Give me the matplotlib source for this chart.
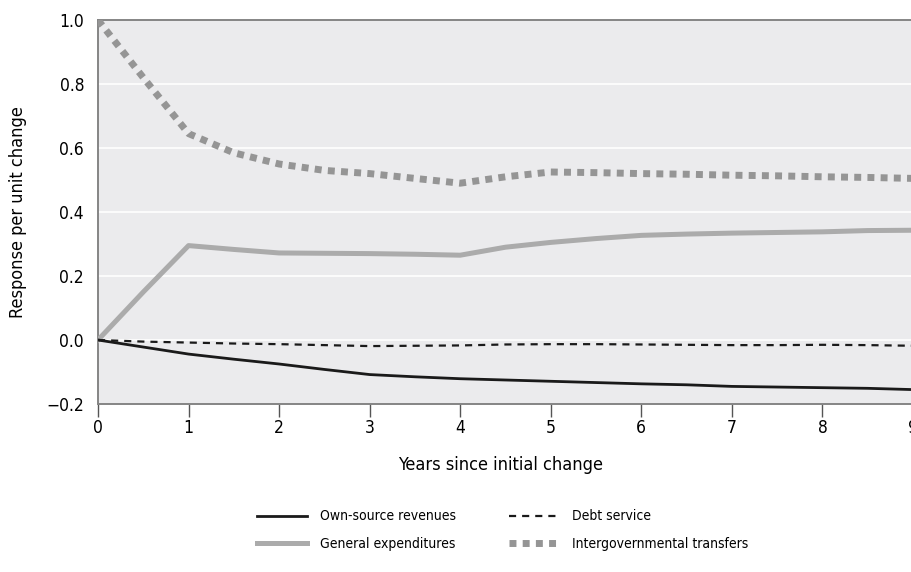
import matplotlib
matplotlib.use('Agg')
import matplotlib.pyplot as plt

plt.rcParams['font.family'] = ['DejaVu Sans']
plt.rcParams['font.stretch'] = 'condensed'

years = [0, 0.5, 1, 1.5, 2, 2.5, 3, 3.5, 4, 4.5, 5, 5.5, 6, 6.5, 7, 7.5, 8, 8.5, 9]
own_source = [0, -0.022, -0.044, -0.06, -0.075, -0.092, -0.108, -0.115, -0.121, -0.125,
              -0.129, -0.133, -0.137, -0.14, -0.145, -0.147, -0.149, -0.151, -0.155]
debt_service = [0, -0.005, -0.008, -0.011, -0.013, -0.016, -0.019, -0.018, -0.017, -0.014,
                -0.013, -0.013, -0.014, -0.015, -0.016, -0.016, -0.015, -0.016, -0.018]
general_exp = [0, 0.15, 0.295, 0.283, 0.272, 0.271, 0.27, 0.268, 0.265, 0.29,
               0.305, 0.317, 0.327, 0.331, 0.334, 0.336, 0.338, 0.342, 0.343]
transfers = [1.0, 0.82, 0.645, 0.585, 0.55, 0.53, 0.52, 0.505, 0.49, 0.51,
             0.525, 0.523, 0.52, 0.518, 0.515, 0.513, 0.51, 0.508, 0.505]

x_ticks = list(range(10))
y_ticks = [-0.2, 0.0, 0.2, 0.4, 0.6, 0.8, 1.0]
y_labels = ['\u22120.2', '0.0', '0.2', '0.4', '0.6', '0.8', '1.0']

fig = plt.figure(figsize=(9.11, 5.72), dpi=100)
# right edge runs just past the figure, as in the original (the "9" is cut)
ax = fig.add_axes([98/911, 168/572, 815/911, 384/572])
ax.set_facecolor('#ebebed')

for y in y_ticks[1:-1]:
    ax.axhline(y, color='white', lw=1.2, zorder=1)

ax.plot(years, own_source, color='#1a1a1a', lw=2, label='Own-source revenues', zorder=4)
ax.plot(years, general_exp, color='#ababab', lw=3.6, label='General expenditures', zorder=3)
ax.plot(years, debt_service, color='#1a1a1a', lw=1.6, dashes=(3.2, 2.7), label='Debt service', zorder=4)
ax.plot(years, transfers, color='#959595', lw=5, dashes=(1, 0.9), dash_capstyle='butt',
        label='Intergovernmental transfers', zorder=3)

ax.set_xlim(0, 9)
ax.set_ylim(-0.2, 1.0)
ax.set_xticks(x_ticks)
ax.set_yticks(y_ticks)
ax.set_yticklabels(y_labels)
ax.tick_params(axis='y', length=0, labelsize=12.5, pad=10)
ax.tick_params(axis='x', length=9, width=1, color='#555555', labelsize=12.5, pad=2, direction='out')
for s in ['top', 'left', 'bottom']:
    ax.spines[s].set_color('#858585')
    ax.spines[s].set_linewidth(1.4)
ax.spines['right'].set_visible(False)

ax.set_xlabel('Years since initial change', fontsize=13)
ax.xaxis.label.set_va('center')
ax.xaxis.set_label_coords(0.494, -0.159)
ax.set_ylabel('Response per unit change', fontsize=13)
ax.yaxis.label.set_va('center')
ax.yaxis.set_label_coords(-0.098, 0.5)

fig.legend(loc='center', bbox_to_anchor=(0.552, 0.0734), ncol=2, frameon=False,
           fontsize=10, handlelength=3.6, handletextpad=0.94, columnspacing=3.8, labelspacing=0.95)

fig.savefig('out.png', dpi=100)
